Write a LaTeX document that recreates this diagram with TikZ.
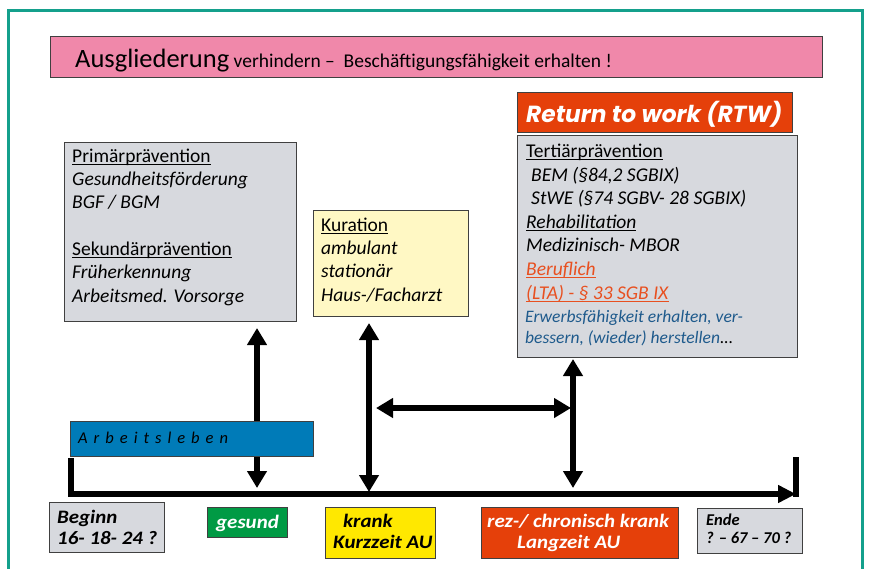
\documentclass[tikz,border=0pt]{standalone}
\usepackage{fontspec}
\setmainfont{Carlito}
\newfontfamily\rtwfont{Poppins}
\newfontfamily\botfont[FakeStretch=1.1]{Carlito}
\usetikzlibrary{arrows.meta}
\definecolor{framec}{HTML}{14A08C}
\definecolor{pinkc}{HTML}{F088AA}
\definecolor{grayc}{HTML}{D7D9DE}
\definecolor{palec}{HTML}{FFF8C4}
\definecolor{redc}{HTML}{E5400A}
\definecolor{yelc}{HTML}{FFE800}
\definecolor{greenc}{HTML}{009A44}
\definecolor{bluebox}{HTML}{007BB8}
\definecolor{bluetxt}{HTML}{1E5A8C}
\definecolor{orangetxt}{HTML}{E85020}
\definecolor{edgec}{HTML}{404040}
\newcommand\myul[1]{\setbox0=\hbox{#1}\rlap{\rule[-3pt]{\wd0}{1.5pt}}\box0}
\begin{document}
\begin{tikzpicture}[x=1pt,y=-1pt,
  box/.style={draw=edgec, line width=0.8pt, anchor=north west, inner sep=0pt},
  txt/.style={anchor=base west, inner sep=0pt, align=left},
  body/.style={font=\fontsize{19.5}{23.3}\selectfont},
  bot/.style={font=\botfont\fontsize{19}{20.5}\selectfont\bfseries\itshape},
  dbl/.style={line width=5.5pt, {Triangle[length=17pt,width=19pt]}-{Triangle[length=17pt,width=19pt]}},
  tline/.style={line width=6pt, line join=miter}
]
\useasboundingbox (0,0) rectangle (869,568);
\fill[white] (0,0) rectangle (869,568);
\draw[framec, line width=3pt] (8,572) -- (8,10) -- (862,10) -- (862,572);

% banner
\node[box, fill=pinkc, minimum width=772pt, minimum height=41pt] (banner) at (50,36) {};
\node[txt] (bannertxt) at (75,67) {\fontsize{26.5}{30}\selectfont Ausgliederung\fontsize{19.5}{22}\selectfont{} verhindern –\ \ Beschäftigungsfähigkeit erhalten !};

% RTW
\node[box, fill=redc, minimum width=275pt, minimum height=40pt] (rtw) at (517,92) {};
\node[txt, text=white] (rtwtxt) at (526,122) {\rtwfont\fontsize{23.3}{26}\selectfont\bfseries\itshape Return to work (RTW)};

% primary / secondary prevention
\node[box, fill=grayc, minimum width=232pt, minimum height=179pt] (prim) at (64,142) {};
\node[txt, body] (primtxt) at (72,302) {\myul{Primärprävention}\\ \textit{Gesundheitsförderung}\\ \textit{BGF / BGM}\\ \mbox{}\\ \myul{Sekundärprävention}\\ \textit{Früherkennung}\\ \textit{Arbeitsmed. Vorsorge}};

% Kuration
\node[box, fill=palec, minimum width=155pt, minimum height=106pt] (kur) at (313,210) {};
\node[txt, body] (kurtxt) at (321,301) {\myul{Kuration}\\ \textit{ambulant}\\ \textit{stationär}\\ \textit{Haus-/Facharzt}};

% Tertiary prevention
\node[box, fill=grayc, minimum width=280pt, minimum height=222pt] (tert) at (517,135) {};
\node[txt, font=\fontsize{19.5}{23.6}\selectfont] (terttxt) at (526,299) {\myul{Tertiärprävention}\\ \hspace*{5pt}\textit{BEM (§84,2 SGBIX)}\\ \hspace*{5pt}\textit{StWE (§74 SGBV- 28 SGBIX)}\\ \myul{\textit{Rehabilitation}}\\ \textit{Medizinisch- MBOR}\\ \textcolor{orangetxt}{\myul{\textit{Beruflich}}}\\ \textcolor{orangetxt}{\myul{\textit{(LTA) - § 33 SGB IX}}}};
\node[txt, font=\fontsize{17.5}{21}\selectfont\itshape, text=bluetxt] (erwtxt) at (525,343) {Erwerbsfähigkeit erhalten, ver-\\ bessern, (wieder) herstellen\textcolor{black}{...}};

% arrows
\coordinate (a1t) at (257,328);
\coordinate (a1b) at (257,488);
\coordinate (a2t) at (369,323);
\coordinate (a2b) at (369,492);
\coordinate (a3t) at (573,359);
\coordinate (a3b) at (573,488);
\coordinate (hl) at (376,408);
\coordinate (hr) at (571,408);
\draw[dbl] (a1t) -- (a1b);
\draw[dbl] (a2t) -- (a2b);
\draw[dbl] (a3t) -- (a3b);
\draw[dbl] (hl) -- (hr);

% Arbeitsleben
\node[box, fill=bluebox, minimum width=243pt, minimum height=35pt] (arb) at (70,421) {};
\node[txt, font=\fontsize{16.5}{20}\selectfont\itshape] (arbtxt) at (78,443) {\spaceskip=6pt A r b e i t s l e b e n};

% timeline
\coordinate (tlL) at (71,458);
\coordinate (tlR) at (796,494);
\coordinate (rbT) at (796,457);
\coordinate (rbB) at (796,497);
\draw[tline, -{Triangle[length=18pt,width=17pt]}] (tlL) |- (tlR);
\draw[tline] (rbT) -- (rbB);

% bottom boxes
\node[box, fill=grayc, minimum width=115pt, minimum height=50pt] (beg) at (49,502) {};
\node[txt, bot] (begtxt) at (57,544) {Beginn\\ 16- 18- 24 ?};
\node[box, fill=greenc, minimum width=80pt, minimum height=30pt] (ges) at (207,507) {};
\node[txt, bot, text=white] (gestxt) at (216,528) {gesund};
\node[box, fill=yelc, minimum width=110pt, minimum height=51pt] (kra) at (325,507) {};
\node[txt, bot] (kratxt) at (333,548) {\hspace*{10pt}krank\\ Kurzzeit AU};
\node[box, fill=redc, minimum width=197pt, minimum height=51pt] (rez) at (481,507) {};
\node[txt, bot, text=white] (reztxt) at (487,548) {rez-/ chronisch krank\\ \hspace*{30pt}Langzeit AU};
\node[box, fill=grayc, minimum width=105pt, minimum height=45pt] (end) at (697,508) {};
\node[txt, font=\fontsize{16.5}{17.5}\selectfont\bfseries\itshape] (endtxt) at (706,543) {Ende\\ ? – 67 – 70 ?};
\end{tikzpicture}
\end{document}
